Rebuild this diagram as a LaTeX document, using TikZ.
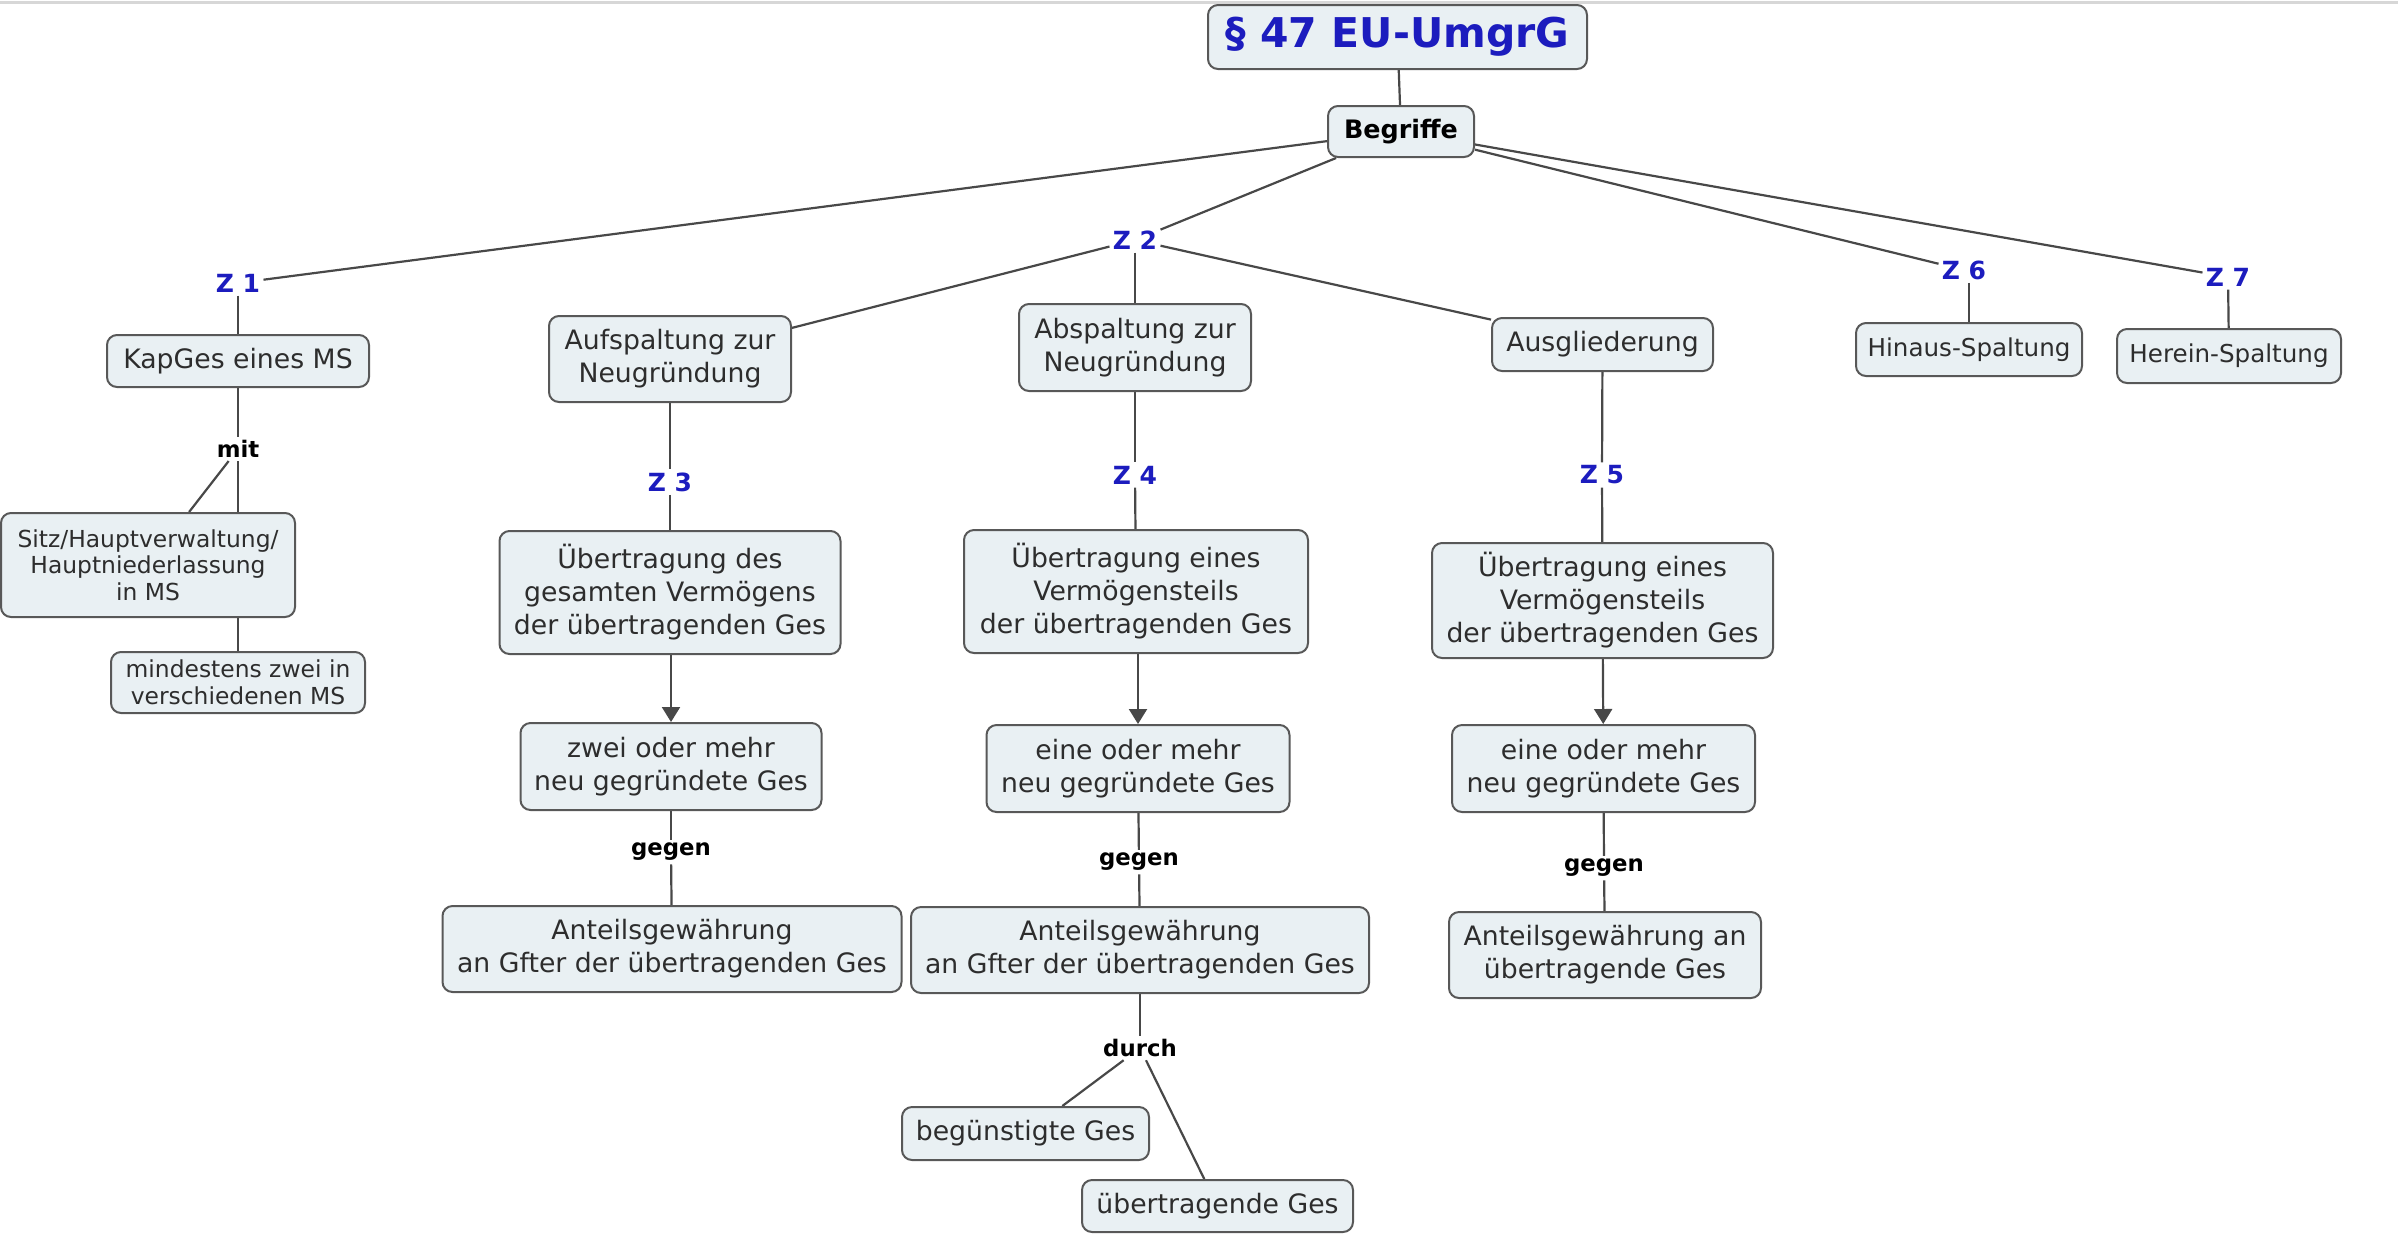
\documentclass[tikz,border=0pt]{standalone}
\usepackage{fontspec}
\setmainfont{DejaVu Sans}
\usetikzlibrary{arrows.meta}
\pgfdeclarelayer{background}
\pgfsetlayers{background,main}

\definecolor{boxfill}{RGB}{233,240,243}
\definecolor{boxline}{RGB}{88,88,88}
\definecolor{linkgray}{RGB}{72,72,72}
\definecolor{zblue}{RGB}{28,28,190}
\definecolor{txt}{RGB}{45,45,45}
\definecolor{edgegray}{RGB}{215,215,215}

\tikzset{
  concept/.style={draw=boxline, line width=1pt, fill=boxfill, rounded corners=5pt,
    align=center, text=txt, inner sep=0pt, font=\fontsize{13.35}{16.5}\selectfont},
  smallconcept/.style={concept, font=\fontsize{11.7}{13.3}\selectfont},
  narrowconcept/.style={concept, font=\fontsize{12.3}{15}\selectfont},
  sz/.style 2 args={minimum width=#1, minimum height=#2},
  zlabel/.style={text=zblue, inner sep=1.5pt, font=\bfseries\fontsize{12.5}{14}\selectfont},
  linklabel/.style={text=black, inner sep=1.5pt, font=\bfseries\fontsize{11.4}{13}\selectfont},
  link/.style={draw=linkgray, line width=1.1pt},
  arrowlink/.style={link, -{Triangle[width=9pt,length=7.5pt]}},
  topedge/.style={draw=edgegray, line width=1.5pt},
}

\begin{document}
\begin{tikzpicture}[x=0.5pt, y=-0.5pt]
\useasboundingbox (0,0) rectangle (2398,1233);
\draw[topedge] (0,2) -- (2398,2);

% root and first level
\node[concept, sz={189.5pt}{32pt}, text=zblue, font=\bfseries\fontsize{20.5}{24}\selectfont] (title) at (1397.5,37) {§ 47 EU-UmgrG};
\node[concept, sz={73pt}{25.5pt}, text=black, font=\bfseries\fontsize{12.7}{15}\selectfont] (begriffe) at (1401,131.5) {Begriffe};

% Z 1
\node[zlabel] (z1) at (238,283) {Z 1};
\node[concept, sz={131pt}{26pt}] (kapges) at (238,361) {KapGes eines MS};
\node[linklabel] (mit) at (238,449) {mit};
\node[smallconcept, sz={147pt}{52pt}] (sitz) at (148,565) {Sitz/Hauptverwaltung/\\Hauptniederlassung\\in MS};
\node[smallconcept, sz={127pt}{30.5pt}] (mind) at (238,682.5) {mindestens zwei in\\verschiedenen MS};

% Z 2 and its three branches
\node[zlabel] (z2) at (1135,240) {Z 2};
\node[concept, sz={121pt}{43pt}] (aufsp) at (670,359) {Aufspaltung zur\\Neugründung};
\node[concept, sz={116pt}{43.5pt}] (absp) at (1135,347.5) {Abspaltung zur\\Neugründung};
\node[concept, sz={110.5pt}{26.5pt}] (ausg) at (1602.5,344.5) {Ausgliederung};

% Z 3
\node[zlabel] (z3) at (670,482) {Z 3};
\node[concept, sz={170.5pt}{61.5pt}] (uebdes) at (670,592.5) {Übertragung des\\gesamten Vermögens\\der übertragenden Ges};
\node[concept, sz={150.5pt}{43.5pt}] (zwei) at (671,766.5) {zwei oder mehr\\neu gegründete Ges};
\node[linklabel] (gegenA) at (671,852) {gegen};
\node[concept, sz={229.5pt}{43pt}] (antA) at (672,949) {Anteilsgewährung\\an Gfter der übertragenden Ges};

% Z 4
\node[zlabel] (z4) at (1135,475) {Z 4};
\node[concept, sz={172pt}{61.5pt}] (uebeinesB) at (1136,591.5) {Übertragung eines\\Vermögensteils\\der übertragenden Ges};
\node[concept, sz={151.5pt}{43.5pt}] (eineB) at (1138,768.5) {eine oder mehr\\neu gegründete Ges};
\node[linklabel] (gegenB) at (1139,862) {gegen};
\node[concept, sz={229pt}{43pt}] (antB) at (1140,950) {Anteilsgewährung\\an Gfter der übertragenden Ges};
\node[linklabel] (durch) at (1140,1048) {durch};
\node[concept, sz={123.5pt}{26.5pt}] (beg) at (1025.5,1133.5) {begünstigte Ges};
\node[concept, sz={135.5pt}{26pt}] (uebges) at (1217.5,1206) {übertragende Ges};

% Z 5
\node[zlabel] (z5) at (1602,475) {Z 5};
\node[concept, sz={170.5pt}{57.5pt}] (uebeinesC) at (1602.5,600.5) {Übertragung eines\\Vermögensteils\\der übertragenden Ges};
\node[concept, sz={151.5pt}{43.5pt}] (eineC) at (1603.5,768.5) {eine oder mehr\\neu gegründete Ges};
\node[linklabel] (gegenC) at (1604,868) {gegen};
\node[concept, sz={156pt}{43pt}] (antC) at (1605,955) {Anteilsgewährung an\\übertragende Ges};

% Z 6 and Z 7
\node[zlabel] (z6) at (1964,270) {Z 6};
\node[narrowconcept, sz={113pt}{26.5pt}] (hinaus) at (1969,349.5) {Hinaus-Spaltung};
\node[zlabel] (z7) at (2228,277) {Z 7};
\node[narrowconcept, sz={112pt}{27pt}] (herein) at (2229,356) {Herein-Spaltung};

\begin{pgfonlayer}{background}
\draw[link] (title) -- (begriffe);
\draw[link] (begriffe) -- (z1);
\draw[link] (begriffe) -- (z2);
\draw[link] (begriffe) -- (z6);
\draw[link] (begriffe) -- (z7);

\draw[link] (z1) -- (kapges);
\draw[link] (kapges) -- (mit);
\draw[link] (mit) -- (sitz);
\draw[link] (mit) -- (mind);

\draw[link] (z2) -- (aufsp);
\draw[link] (z2) -- (absp);
\draw[link] (z2) -- (ausg);

\draw[link] (aufsp) -- (z3);
\draw[link] (z3) -- (uebdes);
\draw[arrowlink] (uebdes.south -| zwei.north) -- (zwei.north);
\draw[link] (zwei) -- (gegenA);
\draw[link] (gegenA) -- (antA);

\draw[link] (absp) -- (z4);
\draw[link] (z4) -- (uebeinesB);
\draw[arrowlink] (uebeinesB.south -| eineB.north) -- (eineB.north);
\draw[link] (eineB) -- (gegenB);
\draw[link] (gegenB) -- (antB);
\draw[link] (antB) -- (durch);
\draw[link] (durch) -- (beg);
\draw[link] (durch) -- (uebges);

\draw[link] (ausg) -- (z5);
\draw[link] (z5) -- (uebeinesC);
\draw[arrowlink] (uebeinesC) -- (eineC);
\draw[link] (eineC) -- (gegenC);
\draw[link] (gegenC) -- (antC);

\draw[link] (z6.south -| hinaus.north) -- (hinaus.north);
\draw[link] (z7) -- (herein);
\end{pgfonlayer}
\end{tikzpicture}
\end{document}
